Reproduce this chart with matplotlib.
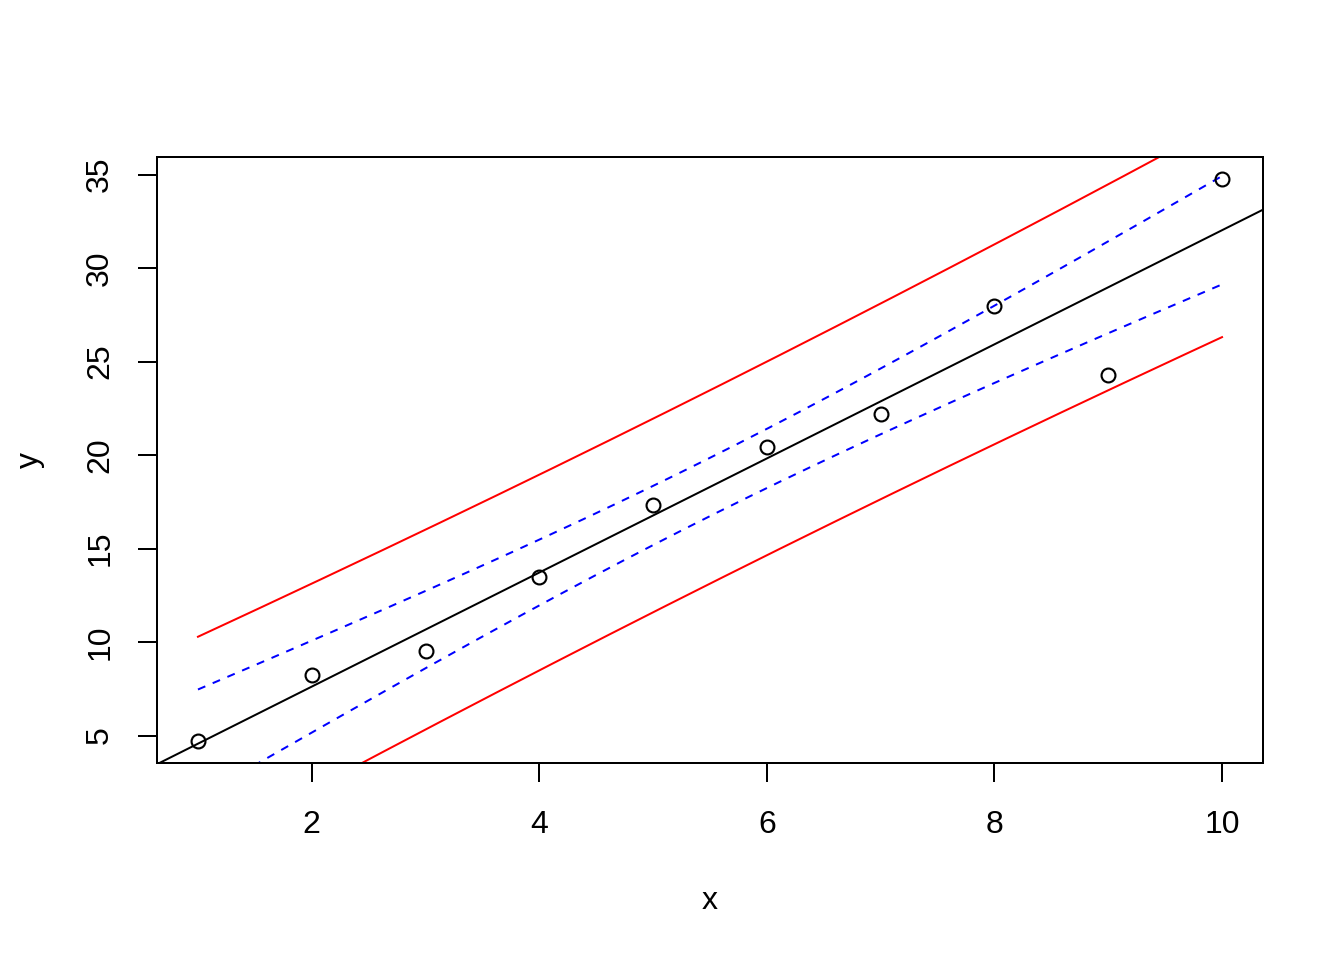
import numpy as np
import matplotlib
matplotlib.use("Agg")
import matplotlib.pyplot as plt

x = np.array([1, 2, 3, 4, 5, 6, 7, 8, 9, 10], dtype=float)
y = np.array([4.73, 8.26, 9.54, 13.49, 17.33, 20.43, 22.19, 27.96, 24.27, 34.74])
x_ticks = [2, 4, 6, 8, 10]
y_ticks = [5, 10, 15, 20, 25, 30, 35]
t_crit = 2.306  # t(0.975, df=8)

plt.rcParams['font.family'] = ['Liberation Sans', 'DejaVu Sans']

# fit
n = len(x)
slope, intercept = np.polyfit(x, y, 1)
resid = y - (intercept + slope * x)
s = np.sqrt(np.sum(resid ** 2) / (n - 2))
sxx = np.sum((x - x.mean()) ** 2)
xg = np.linspace(x.min(), x.max(), 200)
fit = intercept + slope * xg
se_conf = s * np.sqrt(1 / n + (xg - x.mean()) ** 2 / sxx)
se_pred = s * np.sqrt(1 + 1 / n + (xg - x.mean()) ** 2 / sxx)

fig = plt.figure(figsize=(7, 5), dpi=192)
ax = fig.add_axes([157 / 1344, 1 - 763 / 960, (1263 - 157) / 1344, (763 - 157) / 960])

xr = x.max() - x.min()
yr = y.max() - y.min()
ax.set_xlim(x.min() - 0.04 * xr, x.max() + 0.04 * xr)
ax.set_ylim(y.min() - 0.04 * yr, y.max() + 0.04 * yr)

ax.plot(x, y, 'o', mfc='none', mec='black', ms=5.2, mew=0.8, zorder=3)
xl = np.array(ax.get_xlim())
ax.plot(xl, intercept + slope * xl, color='black', lw=0.75)
ax.plot(xg, fit + t_crit * se_conf, color='#0000FF', lw=0.75, linestyle=(0, (4, 4)))
ax.plot(xg, fit - t_crit * se_conf, color='#0000FF', lw=0.75, linestyle=(0, (4, 4)))
ax.plot(xg, fit + t_crit * se_pred, color='#FF0000', lw=0.75)
ax.plot(xg, fit - t_crit * se_pred, color='#FF0000', lw=0.75)

ax.set_xticks(x_ticks)
ax.set_yticks(y_ticks)
ax.set_yticklabels([str(v) for v in y_ticks], rotation=90, va='center')
ax.tick_params(direction='out', length=7.2, width=0.75, labelsize=12)
ax.tick_params(axis='x', pad=10.5)
ax.tick_params(axis='y', pad=8.5)
for sp in ax.spines.values():
    sp.set_linewidth(0.75)
ax.set_xlabel('x', fontsize=12, va='center', ha='center')
ax.set_ylabel('y', fontsize=12, va='center', ha='center')
ax.xaxis.set_label_coords(0.5, (763 - 901) / 606)
ax.yaxis.set_label_coords((30 - 157) / 1106, 0.5)

fig.savefig('out.png', dpi=192)
